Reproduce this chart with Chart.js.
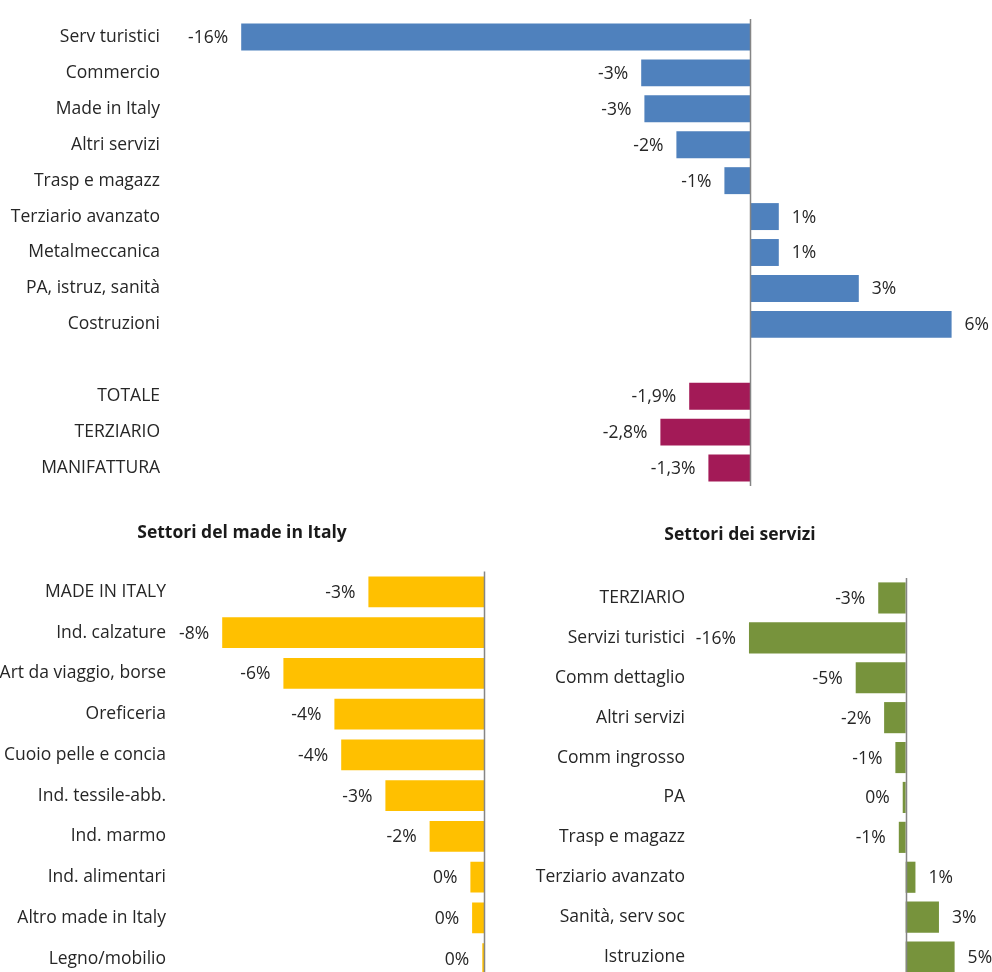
<!DOCTYPE html>
<html>
<head>
<meta charset="utf-8">
<script src="https://cdn.jsdelivr.net/npm/chart.js@4.4.1/dist/chart.umd.min.js"></script>
<style>
  html, body { margin: 0; padding: 0; background: #fff; overflow: hidden; width: 992px; height: 972px; }
  canvas { position: absolute; }
  #topChart { left: 0; top: 0; }
  #madeChart { left: 0; top: 500px; }
  #servChart { left: 496px; top: 500px; }
</style>
</head>
<body>
<canvas id="topChart" width="992" height="490"></canvas>
<canvas id="madeChart" width="496" height="480"></canvas>
<canvas id="servChart" width="496" height="480"></canvas>
<script>
// Dati (variazioni %)
const settoriLabels = ['Serv turistici', 'Commercio', 'Made in Italy', 'Altri servizi', 'Trasp e magazz',
  'Terziario avanzato', 'Metalmeccanica', 'PA, istruz, sanità', 'Costruzioni'];
const settoriValori = [-15.9, -3.4, -3.3, -2.3, -0.8, 0.9, 0.9, 3.4, 6.3];

const totaliLabels = ['TOTALE', 'TERZIARIO', 'MANIFATTURA'];
const totaliValori = [-1.9, -2.8, -1.3];

const madeLabels = ['MADE IN ITALY', 'Ind. calzature', 'Art da viaggio, borse', 'Oreficeria', 'Cuoio pelle e concia',
  'Ind. tessile-abb.', 'Ind. marmo', 'Ind. alimentari', 'Altro made in Italy', 'Legno/mobilio'];
const madeValori = [-3.4, -7.7, -5.9, -4.4, -4.2, -2.9, -1.6, -0.4, -0.35, -0.05];

const servLabels = ['TERZIARIO', 'Servizi turistici', 'Comm dettaglio', 'Altri servizi', 'Comm ingrosso',
  'PA', 'Trasp e magazz', 'Terziario avanzato', 'Sanità, serv soc', 'Istruzione'];
const servValori = [-2.8, -16.0, -5.1, -2.2, -1.05, -0.3, -0.7, 1.0, 3.4, 5.0];

const FONT = '"Open Sans", "Noto Sans", sans-serif';
const SIZE = 17.5;
const TESTO = '#262626';

const intero = v => Math.round(v) + '%';
const decimale = v => v.toFixed(1).replace('.', ',') + '%';

// etichette dei valori + linea dello zero
const etichette = {
  id: 'etichette',
  afterDatasetsDraw(chart) {
    const ctx = chart.ctx;
    const area = chart.chartArea;
    const x0 = Math.round(chart.scales.x.getPixelForValue(0)) + 0.5;
    ctx.save();
    ctx.strokeStyle = '#858585';
    ctx.lineWidth = 1.5;
    ctx.beginPath();
    ctx.moveTo(x0, area.top);
    ctx.lineTo(x0, area.bottom);
    ctx.stroke();

    ctx.font = SIZE + 'px ' + FONT;
    ctx.fillStyle = TESTO;
    ctx.textBaseline = 'middle';
    chart.data.datasets.forEach((ds, i) => {
      const meta = chart.getDatasetMeta(i);
      meta.data.forEach((bar, j) => {
        const v = ds.data[j];
        if (v === null || v === undefined) return;
        const testo = ds.formato(v);
        if (v < 0) {
          ctx.textAlign = 'right';
          ctx.fillText(testo, bar.x - 13, bar.y + 1);
        } else {
          ctx.textAlign = 'left';
          ctx.fillText(testo, bar.x + 13, bar.y + 1);
        }
      });
    });
    ctx.restore();
  }
};

function asseX(min, max) {
  return {
    min: min,
    max: max,
    ticks: { display: false },
    grid: { display: false, drawTicks: false },
    border: { display: false }
  };
}

function asseY(larghezza, padding) {
  return {
    grid: { display: false, drawTicks: false },
    border: { display: false },
    ticks: { padding: padding, color: TESTO, autoSkip: false, font: { family: FONT, size: SIZE } },
    afterFit(scale) {
      scale.width = larghezza;
      // niente spazio extra sopra/sotto per le etichette
      scale.paddingTop = 0;
      scale.paddingBottom = 0;
    }
  };
}

function titolo(testo, top, bottom) {
  return {
    display: true,
    text: testo,
    color: '#1a1a1a',
    font: { family: FONT, size: SIZE, weight: 'bold' },
    padding: { top: top, bottom: bottom }
  };
}

// Grafico principale
const nulli = n => Array(n).fill(null);
new Chart(document.getElementById('topChart'), {
  type: 'bar',
  data: {
    labels: [...settoriLabels, '', ...totaliLabels],
    datasets: [{
      data: [...settoriValori, null, ...nulli(totaliValori.length)],
      backgroundColor: '#4f81bd',
      formato: intero
    }, {
      data: [...nulli(settoriValori.length + 1), ...totaliValori],
      backgroundColor: '#a31a57',
      formato: decimale
    }]
  },
  options: {
    indexAxis: 'y',
    responsive: false,
    animation: false,
    grouped: false,
    barPercentage: 0.75,
    categoryPercentage: 1,
    layout: { padding: { top: 19, right: 18, bottom: 4, left: 0 } },
    plugins: { legend: { display: false }, tooltip: { enabled: false } },
    scales: {
      x: asseX(-18, 7),
      y: asseY(174, 14)
    }
  },
  plugins: [etichette]
});

// Settori del made in Italy
new Chart(document.getElementById('madeChart'), {
  type: 'bar',
  data: {
    labels: madeLabels,
    datasets: [{ data: madeValori, backgroundColor: '#ffc000', formato: intero }]
  },
  options: {
    indexAxis: 'y',
    responsive: false,
    animation: false,
    barPercentage: 0.75,
    categoryPercentage: 1,
    layout: { padding: { top: 0, right: 12, bottom: 1, left: 0 } },
    plugins: {
      legend: { display: false },
      tooltip: { enabled: false },
      title: titolo('Settori del made in Italy', 22.5, 28)
    },
    scales: {
      x: asseX(-9, 0),
      y: asseY(178, 12)
    }
  },
  plugins: [etichette]
});

// Settori dei servizi
new Chart(document.getElementById('servChart'), {
  type: 'bar',
  data: {
    labels: servLabels,
    datasets: [{ data: servValori, backgroundColor: '#77933c', formato: intero }]
  },
  options: {
    indexAxis: 'y',
    responsive: false,
    animation: false,
    barPercentage: 0.78,
    categoryPercentage: 1,
    layout: { padding: { top: 0, right: 8, bottom: 3, left: 0 } },
    plugins: {
      legend: { display: false },
      tooltip: { enabled: false },
      title: titolo('Settori dei servizi', 24.5, 32.5)
    },
    scales: {
      x: asseX(-21, 8),
      y: asseY(204, 15)
    }
  },
  plugins: [etichette]
});
</script>
</body>
</html>
